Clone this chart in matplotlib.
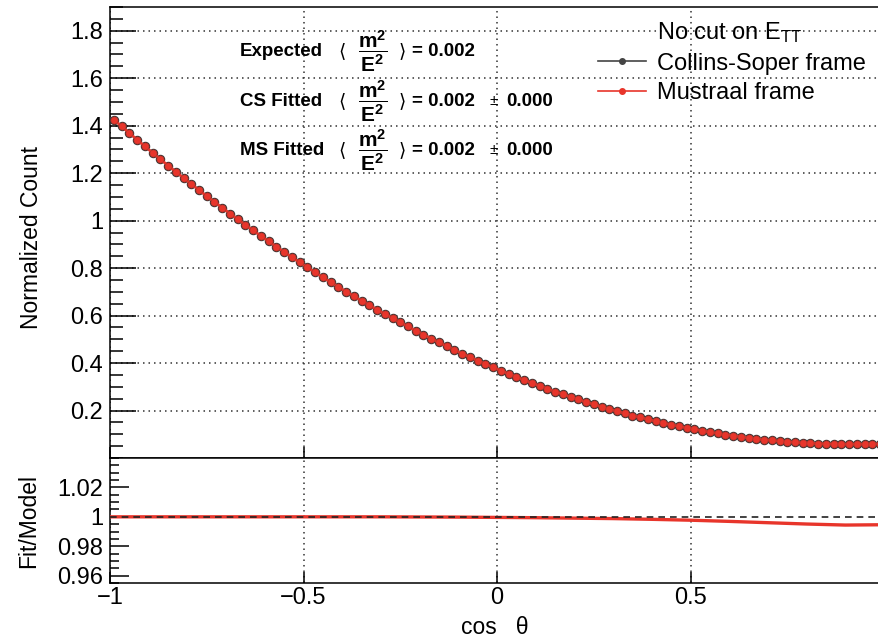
import numpy as np
import matplotlib
matplotlib.use('Agg')
import matplotlib.pyplot as plt
from matplotlib.lines import Line2D
from matplotlib.ticker import MultipleLocator, FixedLocator

plt.rcParams['font.family'] = ['Liberation Sans', 'DejaVu Sans']
plt.rcParams['mathtext.fontset'] = 'custom'
plt.rcParams['mathtext.rm'] = 'Liberation Sans'
plt.rcParams['mathtext.it'] = 'Liberation Sans:italic'
plt.rcParams['mathtext.bf'] = 'Liberation Sans:bold'

# ---------------- data ----------------
# 100 bins in cos(theta), centres from -0.99 to 0.99
bin_centres = np.linspace(-0.99, 0.99, 100)

counts_cs = [1.426, 1.397, 1.369, 1.341, 1.313, 1.286, 1.259, 1.232, 1.206, 1.180,
             1.154, 1.129, 1.103, 1.079, 1.054, 1.030, 1.006, 0.982, 0.959, 0.935,
             0.913, 0.890, 0.868, 0.846, 0.824, 0.803, 0.782, 0.761, 0.741, 0.721,
             0.701, 0.682, 0.662, 0.644, 0.625, 0.607, 0.589, 0.571, 0.554, 0.536,
             0.520, 0.503, 0.487, 0.471, 0.455, 0.440, 0.425, 0.410, 0.396, 0.382,
             0.368, 0.355, 0.341, 0.329, 0.316, 0.304, 0.292, 0.280, 0.269, 0.257,
             0.247, 0.236, 0.226, 0.216, 0.206, 0.197, 0.188, 0.179, 0.171, 0.163,
             0.155, 0.148, 0.140, 0.134, 0.127, 0.121, 0.115, 0.109, 0.104, 0.098,
             0.094, 0.089, 0.085, 0.081, 0.077, 0.074, 0.071, 0.068, 0.066, 0.064,
             0.062, 0.061, 0.059, 0.059, 0.058, 0.058, 0.058, 0.058, 0.059, 0.059]

counts_ms = list(counts_cs)  # Mustraal frame sits right on top of CS

ratio_x = [-1.0, -0.9, -0.8, -0.7, -0.6, -0.5, -0.4, -0.3, -0.2, -0.1,
           0.0, 0.1, 0.2, 0.3, 0.4, 0.5, 0.6, 0.7, 0.8, 0.9, 0.99]
ratio_ms = [1.0, 1.0, 1.0, 1.0, 1.0, 1.0, 1.0, 1.0, 0.9999, 0.9998,
            0.9996, 0.9994, 0.9991, 0.9988, 0.9983, 0.9977, 0.9969, 0.9960,
            0.9951, 0.9944, 0.9946]

row_labels = ['Expected', 'CS Fitted', 'MS Fitted']
row_values = ['0.002', '0.002', '0.002']
row_errors = [None, '0.000', '0.000']

RED = '#e8352b'
W, H = 879, 639
FS = 17

fig = plt.figure(figsize=(W / 100, H / 100), dpi=100)
left = 110 / W
ax = fig.add_axes([left, (H - 458) / H, 1.0 - left, (458 - 7) / H])
ax2 = fig.add_axes([left, (H - 583) / H, 1.0 - left, (583 - 458) / H])

# ---------------- upper pad ----------------
ax.plot(bin_centres, counts_cs, color='#333333', lw=1.2, marker='o', ms=5.8,
        mfc='#444444', mec='#333333', zorder=3)
ax.plot(bin_centres, counts_ms, color=RED, lw=2.0, marker='o', ms=5.2,
        mfc=RED, mec='#a8352c', mew=0.5, zorder=4)

ax.set_xlim(-1, 0.987)
ax.set_ylim(0, 1.9)
ax.yaxis.set_major_locator(FixedLocator([0.2, 0.4, 0.6, 0.8, 1.0, 1.2, 1.4, 1.6, 1.8]))
ax.yaxis.set_minor_locator(MultipleLocator(0.05))
ax.xaxis.set_major_locator(FixedLocator([-1, -0.5, 0, 0.5]))
ax.set_yticklabels(['0.2', '0.4', '0.6', '0.8', '1', '1.2', '1.4', '1.6', '1.8'])
ax.tick_params(axis='y', which='major', direction='in', length=19, width=1.1,
               labelsize=FS, pad=5, right=False)
ax.tick_params(axis='y', which='minor', direction='in', length=9, width=1.1, right=False)
ax.tick_params(axis='x', which='major', direction='in', length=8, width=1.1,
               labelbottom=False, top=False)
ax.grid(True, which='major', color='#333333', lw=1.1, linestyle=(0, (1, 2.6)))
ax.set_axisbelow(True)
ax.spines['right'].set_visible(False)
for s in ['left', 'top', 'bottom']:
    ax.spines[s].set_linewidth(1.1)
ax.set_ylabel('Normalized Count', fontsize=16.5)
ax.yaxis.set_label_coords(-0.087, 0.49)

# legend
handles = [Line2D([], [], linestyle='none'),
           Line2D([], [], color='#444444', lw=1.2, marker='o', ms=4, mfc='#444444'),
           Line2D([], [], color=RED, lw=1.2, marker='o', ms=4, mfc=RED, mec=RED)]
labels = [r'No cut on E$_{\mathregular{TT}}$', 'Collins-Soper frame', 'Mustraal frame']
ax.legend(handles, labels, loc='upper left', bbox_to_anchor=(598 / W, 1 - 20 / H),
          bbox_transform=fig.transFigure, frameon=False, fontsize=FS,
          handlelength=2.03, handletextpad=0.47, labelspacing=0.33, borderpad=0,
          borderaxespad=0)

# fit summary text
row_y = [51, 101, 150]
for lab, val, err, y in zip(row_labels, row_values, row_errors, row_y):
    yy = 1 - y / H
    fig.text(240 / W, yy, lab, fontsize=13.5, fontweight='bold', ha='left', va='center')
    fig.text(342 / W, yy, '\u27e8', fontsize=13.5, ha='center', va='center',
             family=['DejaVu Sans'])
    fig.text(373 / W, yy, r'$\mathbf{\dfrac{m^2}{E^2}}$', fontsize=15,
             ha='center', va='center')
    fig.text(402 / W, yy, '\u27e9', fontsize=13.5, ha='center', va='center',
             family=['DejaVu Sans'])
    fig.text(412 / W, yy, '= ' + val, fontsize=13.5, fontweight='bold',
             ha='left', va='center')
    if err is not None:
        fig.text(494 / W, yy, '\u00b1', fontsize=11, ha='center', va='center')
        fig.text(506 / W, yy, err, fontsize=13.5, fontweight='bold',
                 ha='left', va='center')

# ---------------- lower pad ----------------
ax2.axhline(1.0, color='#222222', lw=1.2, linestyle=(0, (4, 3)), zorder=4)
ax2.plot(ratio_x, ratio_ms, color=RED, lw=2.4, zorder=3)
ax2.set_xlim(-1, 0.987)
ax2.set_ylim(0.955, 1.04)
ax2.yaxis.set_major_locator(FixedLocator([0.96, 0.98, 1.0, 1.02]))
ax2.set_yticklabels(['0.96', '0.98', '1', '1.02'])
ax2.yaxis.set_minor_locator(MultipleLocator(0.005))
ax2.xaxis.set_major_locator(FixedLocator([-1, -0.5, 0, 0.5]))
ax2.set_xticklabels(['\u22121', '\u22120.5', '0', '0.5'])
ax2.tick_params(axis='y', which='major', direction='in', length=14, width=1.1,
                labelsize=FS, pad=5, right=False)
ax2.tick_params(axis='y', which='minor', direction='in', length=6.5, width=1.1, right=False)
ax2.tick_params(axis='x', which='major', direction='in', length=8, width=1.1,
                labelsize=FS, pad=3, top=False)
ax2.grid(True, axis='x', which='major', color='#333333', lw=1.1, linestyle=(0, (1, 2.6)))
ax2.set_axisbelow(True)
ax2.spines['right'].set_visible(False)
for s in ['left', 'top', 'bottom']:
    ax2.spines[s].set_linewidth(1.1)
ax2.set_ylabel('Fit/Model', fontsize=16.5)
ax2.yaxis.set_label_coords(-0.091, 0.5)
ax2.set_xlabel('cos   \u03b8', fontsize=16.5, labelpad=5)

fig.savefig('out.png', dpi=100)
